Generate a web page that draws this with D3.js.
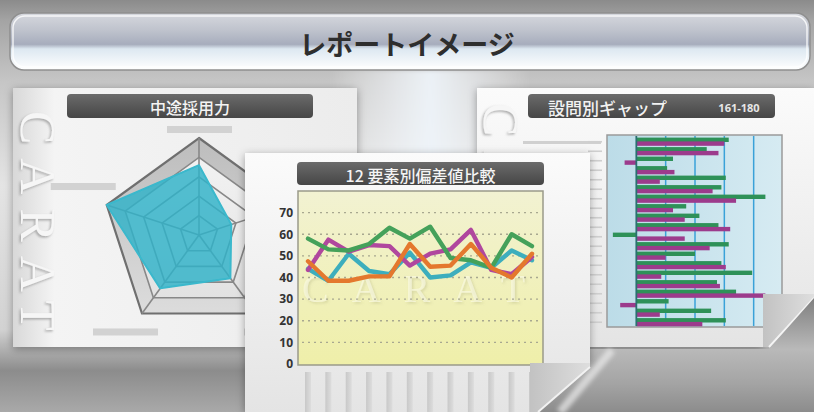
<!DOCTYPE html>
<html>
<head>
<meta charset="utf-8">
<script src="https://cdn.jsdelivr.net/npm/d3@7"></script>
<style>
  html, body { margin: 0; padding: 0; background: #a0a0a0; overflow: hidden; }
</style>
</head>
<body>
<svg id="chart" width="814" height="412"></svg>
<script>
// texts
const pageTitle = 'レポートイメージ'
const radarTitle = '中途採用力'
const lineTitle = '12 要素別偏差値比較'
const gapTitle = '設問別ギャップ'
const gapRange = '161-180'
const watermark = 'CARAT'

// radar (5 axes, top then clockwise)
const radarAxes = ['axis1', 'axis2', 'axis3', 'axis4', 'axis5']
const radarValues = [72, 35, 55, 68, 100]
const radarLevels = [20, 40, 60, 80, 100]

// 12 factor line chart
const lineCats = ['1', '2', '3', '4', '5', '6', '7', '8', '9', '10', '11', '12']
const yTicks = [0, 10, 20, 30, 40, 50, 60, 70]
const gridTicks = [10, 20, 30, 40, 50, 60, 70]
const tealSeries = [44, 38.5, 51, 43, 41.5, 51.5, 40, 41, 47, 44.5, 52.5, 48]
const magentaSeries = [43.5, 57.5, 52, 55, 54.5, 45.5, 51, 53, 62, 43.5, 41.5, 49.5]
const greenSeries = [58, 53, 52.5, 55.5, 63, 58, 63.5, 49, 48, 44.5, 60, 54.5]
const orangeSeries = [47.5, 38.5, 38.5, 40.5, 40.5, 55.5, 45, 45.5, 55.5, 44.5, 40, 51]

// question gap bars 161-180
const gapItems = ['161', '162', '163', '164', '165', '166', '167', '168', '169', '170',
  '171', '172', '173', '174', '175', '176', '177', '178', '179', '180']
const gapGreen = [3.15, 2.4, 1.25, 1.05, 3.05, 2.9, 4.4, 1.7, 2.15, 2.8,
  -0.8, 3.15, 2.0, 2.9, 3.95, 2.75, 3.4, 1.1, 2.55, 3.05]
const gapMagenta = [3.0, 2.8, -0.4, 1.3, 0.8, 2.6, 3.4, 1.25, 1.65, 3.2,
  1.65, 2.5, 1.0, 3.05, 0.85, 2.85, 4.4, -0.55, 0.8, 2.25]
const gapTicks = [1, 2, 3, 4]

const conf = {
  jpFont: '"Noto Sans CJK JP", "Noto Sans", sans-serif',
  numFont: '"Open Sans", "DejaVu Sans", sans-serif',
  serifFont: '"Liberation Serif", "DejaVu Serif", serif',
  radarCx: 199,
  radarCy: 235,
  radarR: 97,
  // placeholder label offsets from each axis tip
  radarLabelOffsets: [[0, -9], [32, -16], [20, 18], [-17, 18], [-24, -19]],
  lineColors: { teal: '#3eaebd', magenta: '#b0479e', green: '#45a15a', orange: '#e4782d' },
  gapGreen: '#2d9158',
  gapMagenta: '#9c3a8c'
}

const svg = d3.select('#chart')
const defs = svg.append('defs')

function linearGradient (id, stops, vertical = true) {
  const g = defs.append('linearGradient').attr('id', id)
    .attr('x1', 0).attr('y1', 0)
    .attr('x2', vertical ? 0 : 1).attr('y2', vertical ? 1 : 0)
  stops.forEach(s => g.append('stop').attr('offset', s[0]).attr('stop-color', s[1]))
}

linearGradient('bg', [[0, '#8b8b8b'], [0.05, '#a4a4a4'], [0.2, '#c6c6c6'], [0.45, '#e4e4e4'],
  [0.8, '#d2d2d2'], [0.9, '#8c8c8c'], [1, '#a9a9a9']])
linearGradient('banner', [[0, '#d6d8de'], [0.3, '#bfc3cd'], [0.55, '#a7adbd'], [0.63, '#dde8f1'], [1, '#ffffff']])
linearGradient('panel', [[0, '#fbfbfb'], [1, '#e4e4e4']])
linearGradient('panelSide', [[0, '#d8d8d8'], [0.12, '#f4f4f4'], [1, '#ececec']], false)
linearGradient('pill', [[0, '#6b6b6b'], [1, '#464646']])
linearGradient('yellow', [[0, '#f2f2d2'], [1, '#efefa9']])
linearGradient('blue', [[0, '#bcdce8'], [1, '#d6ebf2']], false)
linearGradient('band', [[0, '#bdbdbd'], [1, '#dcdcdc']])
linearGradient('inner', [[0, '#f2f2f2'], [1, '#e2e2e2']])
linearGradient('xbar', [[0, '#c8c8c8'], [1, '#dddddd']], false)
linearGradient('swoosh', [[0, '#7f7f7f'], [0.45, '#b9b9b9'], [0.75, '#a4a4a4'], [1, '#8c8c8c']])
linearGradient('curl', [[0, '#c2c2c2'], [1, '#dedede']], false)
linearGradient('glow', [[0, 'rgba(255,255,255,0)'], [0.5, 'rgba(240,246,252,0.9)'], [1, 'rgba(255,255,255,0)']], false)

const shadow = defs.append('filter').attr('id', 'shadow')
  .attr('x', '-10%').attr('y', '-10%').attr('width', '120%').attr('height', '130%')
shadow.append('feDropShadow').attr('dx', 0).attr('dy', 2).attr('stdDeviation', 4)
  .attr('flood-color', '#000').attr('flood-opacity', 0.35)
defs.append('filter').attr('id', 'soft')
  .append('feGaussianBlur').attr('stdDeviation', 0.7)
defs.append('filter').attr('id', 'blur2')
  .append('feGaussianBlur').attr('stdDeviation', 2)

// embossed look for the CARAT watermarks (one text, shadow from filter)
function embossFilter (id, color, opacity) {
  const f = defs.append('filter').attr('id', id)
    .attr('x', '-10%').attr('y', '-10%').attr('width', '120%').attr('height', '120%')
  f.append('feDropShadow').attr('dx', 1.5).attr('dy', 1.5).attr('stdDeviation', 0.9)
    .attr('flood-color', color).attr('flood-opacity', opacity)
}
embossFilter('emboss', '#8a8a8a', 0.7)
embossFilter('embossPlot', '#8c8c60', 0.5)

// ---- background
svg.append('rect').attr('width', 814).attr('height', 412).attr('fill', 'url(#bg)')
svg.append('rect').attr('x', 330).attr('y', 70).attr('width', 200).attr('height', 90)
  .attr('fill', 'url(#glow)').attr('filter', 'url(#blur2)')

// ---- title banner
svg.append('rect').attr('x', 10).attr('y', 13).attr('width', 800).attr('height', 57).attr('rx', 14)
  .attr('fill', 'url(#banner)').attr('stroke', '#8f8f8f').attr('stroke-width', 1.5)
svg.append('rect').attr('x', 13).attr('y', 16).attr('width', 794).attr('height', 51).attr('rx', 12)
  .attr('fill', 'none').attr('stroke', 'rgba(255,255,255,0.8)').attr('stroke-width', 1.5)
svg.append('text').attr('x', 407).attr('y', 43)
  .attr('text-anchor', 'middle').attr('dominant-baseline', 'central')
  .attr('font-family', conf.jpFont).attr('font-size', 27).attr('font-weight', 700)
  .attr('fill', '#2e2e2e').text(pageTitle)

// helpers
function pill (x, y, w, h, label, size) {
  svg.append('rect').attr('x', x).attr('y', y).attr('width', w).attr('height', h).attr('rx', 4)
    .attr('fill', 'url(#pill)')
  if (label) {
    svg.append('text').attr('x', x + w / 2).attr('y', y + h / 2 + 1)
      .attr('text-anchor', 'middle').attr('dominant-baseline', 'central')
      .attr('font-family', conf.jpFont).attr('font-size', size).attr('font-weight', 500)
      .attr('fill', '#f4f4f4').text(label)
  }
}

function verticalWatermark (x, y) {
  svg.append('text').attr('transform', `translate(${x},${y}) rotate(90)`)
    .attr('font-family', conf.serifFont).attr('font-size', 50).attr('letter-spacing', 14)
    .attr('fill', '#f6f6f6').attr('filter', 'url(#emboss)').text(watermark)
}

// ---- right panel (behind)
svg.append('path')
  .attr('d', 'M477,88 H814 V294 H763 V347 H477 Z')
  .attr('fill', 'url(#panel)').attr('filter', 'url(#shadow)')
verticalWatermark(484, 103)
pill(528, 94, 247, 24, null)
svg.append('text').attr('x', 548).attr('y', 107)
  .attr('dominant-baseline', 'central')
  .attr('font-family', conf.jpFont).attr('font-size', 17).attr('font-weight', 500)
  .attr('fill', '#f2f2f2').text(gapTitle)
svg.append('text').attr('x', 739).attr('y', 107)
  .attr('text-anchor', 'middle').attr('dominant-baseline', 'central')
  .attr('font-family', conf.numFont).attr('font-size', 11).attr('font-weight', 700)
  .attr('fill', '#e6e6e6').text(gapRange)
svg.append('rect').attr('x', 523).attr('y', 141).attr('width', 78).attr('height', 3).attr('fill', '#d0d0d0')

const xGap = d3.scaleLinear().domain([-1, 5]).range([607, 783])
const yGap = d3.scaleBand().domain(gapItems).range([137, 327])

svg.append('rect').attr('x', 607).attr('y', 135).attr('width', 175).attr('height', 192)
  .attr('fill', 'url(#blue)').attr('stroke', '#9a9a9a').attr('stroke-width', 1.5)

// small row labels (placeholders)
svg.append('g').selectAll('rect').data(gapItems).join('rect')
  .attr('x', 588).attr('width', 14).attr('height', 1.6)
  .attr('y', d => yGap(d) + yGap.bandwidth() / 2 - 0.8)
  .attr('fill', '#cfcfcf')

svg.append('g').selectAll('line').data(gapTicks).join('line')
  .attr('x1', d => xGap(d)).attr('x2', d => xGap(d))
  .attr('y1', 136).attr('y2', 326)
  .attr('stroke', '#3aa2d8').attr('stroke-width', 1.5)

const gapBars = svg.append('g').attr('filter', 'url(#soft)')
gapBars.selectAll('rect.g').data(gapItems).join('rect').attr('class', 'g')
  .attr('x', (d, i) => Math.min(xGap(0), xGap(gapGreen[i])))
  .attr('width', (d, i) => Math.abs(xGap(gapGreen[i]) - xGap(0)))
  .attr('y', d => yGap(d) + 0.6)
  .attr('height', 4.4)
  .attr('fill', conf.gapGreen)
gapBars.selectAll('rect.m').data(gapItems).join('rect').attr('class', 'm')
  .attr('x', (d, i) => Math.min(xGap(0), xGap(gapMagenta[i])))
  .attr('width', (d, i) => Math.abs(xGap(gapMagenta[i]) - xGap(0)))
  .attr('y', d => yGap(d) + 4.4)
  .attr('height', 4.4)
  .attr('fill', conf.gapMagenta)

svg.append('line')
  .attr('x1', xGap(0)).attr('x2', xGap(0)).attr('y1', 136).attr('y2', 326)
  .attr('stroke', '#2a7070').attr('stroke-width', 1.8)

// right panel curl
svg.append('path').attr('d', 'M763,294 H814 V298 L769,347 H763 Z').attr('fill', 'url(#curl)')
svg.append('path').attr('d', 'M769,347 L814,298').attr('stroke', '#f4f4f4').attr('stroke-width', 2)

// swoosh under the right panel
svg.append('path').attr('d', 'M587,349 H769 L814,298 V412 H540 Z').attr('fill', 'url(#swoosh)')
svg.append('path').attr('d', 'M560,412 L612,350').attr('stroke', 'rgba(235,235,235,0.7)')
  .attr('stroke-width', 8).attr('filter', 'url(#blur2)')

// ---- left panel
svg.append('rect').attr('x', 13).attr('y', 88).attr('width', 344).attr('height', 259)
  .attr('fill', 'url(#panelSide)').attr('filter', 'url(#shadow)')
verticalWatermark(21, 111)
pill(67, 94, 246, 24, radarTitle, 16)

const rScale = d3.scaleLinear().domain([0, 100]).range([0, conf.radarR])
const angle = d3.scaleLinear().domain([0, radarAxes.length]).range([0, 2 * Math.PI])
const radarPoint = (i, v) => [
  conf.radarCx + rScale(v) * Math.sin(angle(i)),
  conf.radarCy - rScale(v) * Math.cos(angle(i))
]
const ring = v => radarAxes.map((a, i) => radarPoint(i, v))
const closed = d3.line().curve(d3.curveLinearClosed)

// placeholder axis labels
svg.append('g').selectAll('rect').data(radarAxes).join('rect')
  .attr('x', (d, i) => radarPoint(i, 100)[0] + conf.radarLabelOffsets[i][0] - 32)
  .attr('y', (d, i) => radarPoint(i, 100)[1] + conf.radarLabelOffsets[i][1] - 3)
  .attr('width', 65).attr('height', 7)
  .attr('fill', '#d2d2d2')

const maxLevel = radarLevels[radarLevels.length - 1]
svg.append('path').attr('d', closed(ring(maxLevel))).attr('fill', 'url(#band)')
svg.append('path').attr('d', closed(ring(radarLevels[radarLevels.length - 2]))).attr('fill', 'url(#inner)')
svg.append('g').selectAll('path').data(radarLevels).join('path')
  .attr('d', v => closed(ring(v)))
  .attr('fill', 'none')
  .attr('stroke', v => v === maxLevel ? '#6f6f6f' : '#888')
  .attr('stroke-width', v => v === maxLevel ? 2.2 : 1.6)
svg.append('g').selectAll('line').data(radarAxes).join('line')
  .attr('x1', conf.radarCx).attr('y1', conf.radarCy)
  .attr('x2', (d, i) => radarPoint(i, maxLevel)[0])
  .attr('y2', (d, i) => radarPoint(i, maxLevel)[1])
  .attr('stroke', '#888').attr('stroke-width', 1.6)
svg.append('path')
  .attr('d', closed(radarValues.map((v, i) => radarPoint(i, v))))
  .attr('fill', '#2fb2c8').attr('fill-opacity', 0.82)
  .attr('stroke', '#3ab8cc').attr('stroke-width', 2).attr('stroke-linejoin', 'round')
  .attr('filter', 'url(#soft)')

// ---- middle panel (front)
svg.append('path')
  .attr('d', 'M245,153 H590 V363 H530 V412 H245 Z')
  .attr('fill', 'url(#panel)').attr('filter', 'url(#shadow)')
pill(297, 162, 247, 23, lineTitle, 16)

const xLine = d3.scalePoint().domain(lineCats).range([308, 532])
const yLine = d3.scaleLinear().domain([0, 80]).range([364, 191])

svg.append('rect').attr('x', 298).attr('y', 191).attr('width', 245).attr('height', 174)
  .attr('fill', 'url(#yellow)').attr('stroke', '#9a9a8a').attr('stroke-width', 1.5)

// watermark inside plot
svg.append('text').attr('x', 302).attr('y', 302)
  .attr('font-family', conf.serifFont).attr('font-size', 40).attr('letter-spacing', 23)
  .attr('fill', 'rgba(255,255,240,0.5)').attr('filter', 'url(#embossPlot)').text(watermark)

svg.append('g').selectAll('line').data(gridTicks).join('line')
  .attr('x1', 302).attr('x2', 540)
  .attr('y1', d => yLine(d)).attr('y2', d => yLine(d))
  .attr('stroke', '#a8a890').attr('stroke-width', 1.3).attr('stroke-dasharray', '2,4')

const yAxis = svg.append('g').attr('transform', 'translate(293,0)')
  .call(d3.axisLeft(yLine).tickValues(yTicks).tickSize(0).tickPadding(0))
yAxis.select('.domain').remove()
yAxis.selectAll('text')
  .attr('font-family', conf.numFont).attr('font-size', 12).attr('font-weight', 700)
  .attr('fill', '#333')

const lineGen = d3.line().x((d, i) => xLine(lineCats[i])).y(d => yLine(d))
const lineSeries = [
  { values: tealSeries, color: conf.lineColors.teal },
  { values: magentaSeries, color: conf.lineColors.magenta },
  { values: greenSeries, color: conf.lineColors.green },
  { values: orangeSeries, color: conf.lineColors.orange }
]
const lines = svg.append('g').attr('filter', 'url(#soft)')
lineSeries.forEach(s => {
  lines.append('path').attr('d', lineGen(s.values))
    .attr('fill', 'none').attr('stroke', s.color).attr('stroke-width', 4.4)
    .attr('stroke-linejoin', 'round').attr('stroke-linecap', 'round')
})

// x-axis placeholder labels
svg.append('g').selectAll('rect').data(lineCats).join('rect')
  .attr('x', d => xLine(d) - 3).attr('y', 372)
  .attr('width', 6).attr('height', 40)
  .attr('fill', 'url(#xbar)')

// middle panel curl
svg.append('path').attr('d', 'M530,363 H590 V367 L538,412 H530 Z').attr('fill', 'url(#curl)')
svg.append('path').attr('d', 'M538,412 L590,367').attr('stroke', '#f2f2f2').attr('stroke-width', 2)
</script>
</body>
</html>
